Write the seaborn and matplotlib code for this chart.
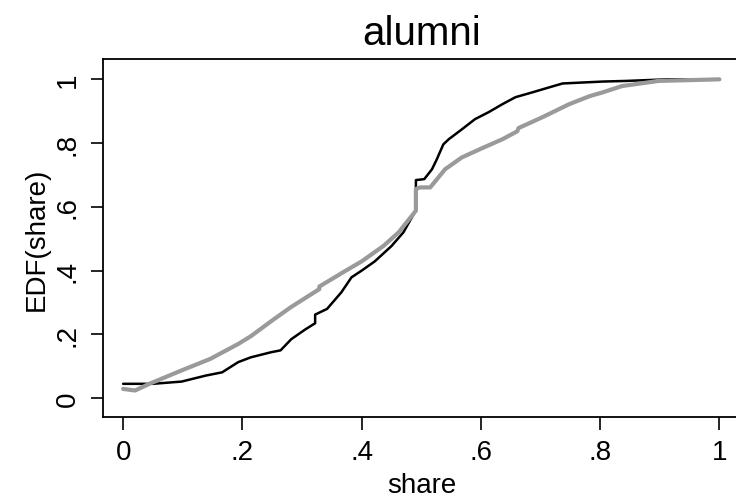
import matplotlib
matplotlib.use("Agg")
import matplotlib.pyplot as plt
import seaborn as sns
import pandas as pd

# Black EDF curve
black_x = [0.0, 0.05, 0.098, 0.139, 0.166, 0.193, 0.214, 0.248, 0.264, 0.282, 0.305, 0.322,
           0.322, 0.342, 0.366, 0.383, 0.400, 0.422, 0.450, 0.470, 0.489, 0.491, 0.491,
           0.505, 0.518, 0.526, 0.537, 0.546, 0.568, 0.590, 0.613, 0.636, 0.658, 0.686,
           0.715, 0.737, 0.804, 0.844, 0.912, 1.0]
black_y = [0.045, 0.045, 0.052, 0.071, 0.081, 0.113, 0.128, 0.144, 0.150, 0.185, 0.215, 0.235,
           0.262, 0.280, 0.332, 0.379, 0.400, 0.429, 0.477, 0.520, 0.583, 0.592, 0.684,
           0.687, 0.718, 0.749, 0.796, 0.812, 0.843, 0.875, 0.897, 0.922, 0.944, 0.959,
           0.975, 0.987, 0.993, 0.995, 1.0, 1.0]

# Gray EDF curve
gray_x = [0.0, 0.02, 0.044, 0.098, 0.146, 0.193, 0.214, 0.248, 0.281, 0.329, 0.329, 0.369,
          0.400, 0.437, 0.462, 0.491, 0.491, 0.498, 0.515, 0.540, 0.568, 0.602, 0.636,
          0.661, 0.663, 0.703, 0.748, 0.782, 0.804, 0.837, 0.898, 1.0]
gray_y = [0.029, 0.024, 0.045, 0.087, 0.123, 0.170, 0.194, 0.241, 0.285, 0.342, 0.350, 0.395,
          0.429, 0.478, 0.520, 0.588, 0.656, 0.661, 0.661, 0.718, 0.755, 0.784, 0.812,
          0.837, 0.847, 0.881, 0.922, 0.947, 0.959, 0.979, 0.995, 1.0]

x_ticks = [0, 0.2, 0.4, 0.6, 0.8, 1.0]
x_ticklabels = ["0", ".2", ".4", ".6", ".8", "1"]
y_ticks = [0, 0.2, 0.4, 0.6, 0.8, 1.0]
y_ticklabels = ["0", ".2", ".4", ".6", ".8", "1"]

sns.set_style("ticks")
plt.rcParams['font.family'] = ['Liberation Sans', 'DejaVu Sans']
plt.rcParams['text.color'] = 'black'
plt.rcParams['axes.labelcolor'] = 'black'

fig = plt.figure(figsize=(7.36, 5.02), dpi=100)
ax = fig.add_axes([0.140, 0.167, 0.865, 0.713])

df_b = pd.DataFrame({"share": black_x, "edf": black_y})
df_g = pd.DataFrame({"share": gray_x, "edf": gray_y})
sns.lineplot(data=df_b, x="share", y="edf", ax=ax, color="black", lw=1.8,
             sort=False, estimator=None)
sns.lineplot(data=df_g, x="share", y="edf", ax=ax, color="#9a9a9a", lw=3.0,
             sort=False, estimator=None)

ax.set_xlim(-0.0337, 1.034)
ax.set_ylim(-0.0596, 1.063)
ax.set_xticks(x_ticks)
ax.set_xticklabels(x_ticklabels)
ax.set_yticks(y_ticks)
ax.set_yticklabels(y_ticklabels, rotation=90, va="center")
ax.tick_params(axis="both", direction="out", length=9, width=1.2, labelsize=20,
               color="black", labelcolor="black", pad=7)
for s in ["left", "bottom", "top"]:
    ax.spines[s].set_visible(True)
    ax.spines[s].set_linewidth(1.3)
    ax.spines[s].set_color("black")
ax.spines["right"].set_visible(False)

ax.set_xlabel("share", fontsize=20, labelpad=5, color="black")
ax.set_ylabel("EDF(share)", fontsize=20, labelpad=4, color="black")
ax.set_title("alumni", fontsize=29, pad=11, color="black")

fig.savefig("out.png", dpi=100)
